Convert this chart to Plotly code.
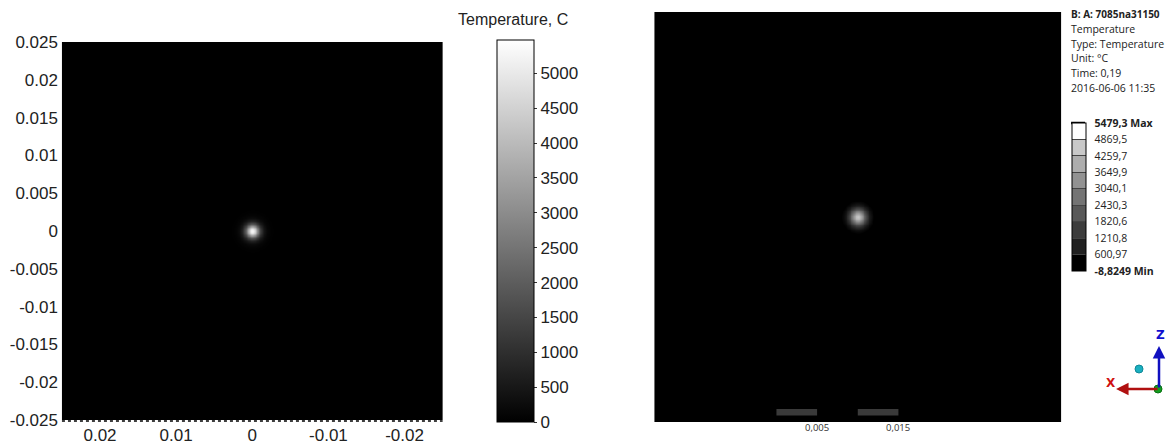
import numpy as np
import plotly.graph_objects as go

# Radial temperature profile of the laser spot (radius in m, temperature in C)
spot_radius = [0.0, 0.00025, 0.0005, 0.00075, 0.001, 0.00125, 0.0015, 0.00175, 0.002, 0.0025, 0.003]
spot_temp = [5479.3, 5050, 3950, 2650, 1600, 900, 480, 250, 120, 30, 0]

# Same spot as shaded in the FE post-processor (nodal averaged, softer)
fe_radius = [0.0, 0.00025, 0.0005, 0.00075, 0.001, 0.00125, 0.0015, 0.00175, 0.002]
fe_temp = [4300, 4000, 3300, 2400, 1600, 950, 500, 200, 0]

t_min, t_max = 0.0, 5479.3

x_ticks = [0.02, 0.01, 0.0, -0.01, -0.02]
x_labels = ["0.02", "0.01", "0", "-0.01", "-0.02"]
y_ticks = [0.025, 0.02, 0.015, 0.01, 0.005, 0.0, -0.005, -0.01, -0.015, -0.02, -0.025]
y_labels = ["0.025", "0.02", "0.015", "0.01", "0.005", "0", "-0.005", "-0.01", "-0.015", "-0.02", "-0.025"]
cbar_ticks = [0, 500, 1000, 1500, 2000, 2500, 3000, 3500, 4000, 4500, 5000]

# FE legend levels (bottom to top) and band colours
fe_levels = [-8.8249, 600.97, 1210.8, 1820.6, 2430.3, 3040.1, 3649.9, 4259.7, 4869.5, 5479.3]
fe_level_text = ["<b>-8,8249 Min</b>", "600,97", "1210,8", "1820,6", "2430,3",
                 "3040,1", "3649,9", "4259,7", "4869,5", "<b>5479,3 Max</b>"]
fe_band_colors = ["#000000", "#202020", "#3c3c3c", "#585858", "#747474",
                  "#929292", "#adadad", "#c8c8c8", "#ffffff"]

info_lines = ["<b>B: A: 7085na31150</b>", "Temperature", "Type: Temperature",
              "Unit: °C", "Time: 0,19", "2016-06-06 11:35"]

W, H = 1168, 443


def px(xp):
    return xp / W


def py(yp):
    return 1 - yp / H


grid = np.arange(-0.004, 0.004 + 1e-9, 0.0001)
gx, gy = np.meshgrid(grid, grid)
rr = np.hypot(gx, gy)
z_left = np.interp(rr, spot_radius, spot_temp)
z_right = np.interp(rr, fe_radius, fe_temp)

grey = [[0, "#000000"], [1, "#ffffff"]]
pad = "\u00a0\u00a0"

fig = go.Figure()

fig.add_trace(go.Heatmap(
    x=grid, y=grid, z=z_left, zmin=t_min, zmax=t_max, colorscale=grey,
    zsmooth="best", xaxis="x", yaxis="y",
    colorbar=dict(
        x=px(497), xanchor="left", y=py(40), yanchor="top",
        len=382, lenmode="pixels", thickness=37, thicknessmode="pixels",
        outlinecolor="#000000", outlinewidth=1,
        tickvals=cbar_ticks, ticks="outside", ticklen=3, tickcolor="#333",
        tickfont=dict(family="Liberation Sans", size=17, color="#222"),
        xpad=0, ypad=0,
    ),
))

fig.add_trace(go.Heatmap(
    x=grid, y=grid, z=z_right, zmin=t_min, zmax=t_max, colorscale=grey,
    zsmooth="best", xaxis="x2", yaxis="y2", showscale=False,
))

# stepped legend of the FE result
n = len(fe_band_colors)
stepped = []
for i, c in enumerate(fe_band_colors):
    stepped.append([i / n, c])
    stepped.append([(i + 1) / n, c])

fig.add_trace(go.Scatter(
    x=[0.02] * len(fe_levels), y=[0.02] * len(fe_levels), mode="markers",
    xaxis="x2", yaxis="y2", hoverinfo="skip", showlegend=False,
    marker=dict(
        color=fe_levels, colorscale=stepped, cmin=fe_levels[0], cmax=fe_levels[-1],
        opacity=0, size=1, showscale=True,
        colorbar=dict(
            x=px(1072), xanchor="left", y=py(123), yanchor="top",
            len=148, lenmode="pixels", thickness=14, thicknessmode="pixels",
            outlinecolor="#000000", outlinewidth=1,
            tickvals=fe_levels, ticktext=[pad + t for t in fe_level_text],
            ticks="inside", ticklen=14, tickcolor="#444", tickwidth=1,
            tickfont=dict(family="Open Sans", size=10.5, color="#222"),
            xpad=0, ypad=0,
        ),
    ),
))

fig.update_layout(
    width=W, height=H, margin=dict(l=0, r=0, t=0, b=0),
    paper_bgcolor="#ffffff", plot_bgcolor="#000000", showlegend=False,
    xaxis=dict(
        domain=[px(62), px(443)], range=[0.025, -0.025], tickvals=x_ticks, ticktext=x_labels,
        showgrid=False, zeroline=False, showline=False, ticks="", automargin=False,
        ticklabelstandoff=3,
        tickfont=dict(family="Liberation Sans", size=17, color="#222"), anchor="y",
    ),
    yaxis=dict(
        domain=[py(420), py(42)], range=[-0.025, 0.025], tickvals=y_ticks, ticktext=y_labels,
        showgrid=False, zeroline=False, showline=False, ticks="", automargin=False,
        ticklabelstandoff=3,
        tickfont=dict(family="Liberation Sans", size=17, color="#222"), anchor="x",
    ),
    xaxis2=dict(
        domain=[px(655), px(1062)], range=[-0.025, 0.025], visible=False, anchor="y2",
    ),
    yaxis2=dict(
        domain=[py(422), py(12)], range=[-0.025, 0.025], visible=False, anchor="x2",
    ),
)

shapes = []
# dotted lower edge of the left map
shapes.append(dict(type="line", xref="paper", yref="paper", x0=px(62), x1=px(443),
                   y0=py(421), y1=py(421), line=dict(color="#000000", width=1.5, dash="dot")))
# scale bar segments (m) on the FE view
for a, b in [(-0.010, -0.005), (0.0, 0.005)]:
    shapes.append(dict(type="rect", xref="x2", yref="y2", x0=a, x1=b, y0=-0.0242, y1=-0.0234,
                       fillcolor="#3a3a3a", line=dict(width=0)))
# thick top edge of the FE legend
shapes.append(dict(type="line", xref="paper", yref="paper", x0=px(1072), x1=px(1086),
                   y0=py(123), y1=py(123), line=dict(color="#000000", width=2.5)))
# coordinate triad: reference ball and origin
shapes.append(dict(type="circle", xref="paper", yref="paper", x0=px(1136), x1=px(1144),
                   y0=py(373), y1=py(365), fillcolor="#1ab0c0", line=dict(color="#108898", width=1)))

ann = []
ann.append(dict(text="Temperature, C", xref="paper", yref="paper", x=px(513), y=py(20),
                xanchor="center", yanchor="middle", showarrow=False,
                font=dict(family="Liberation Sans", size=16, color="#222")))
for val, label in [(-0.005, "0,005"), (0.005, "0,015")]:
    ann.append(dict(text=label, xref="x2", yref="paper", x=val, y=py(427),
                    xanchor="center", yanchor="middle", showarrow=False,
                    font=dict(family="Open Sans", size=9.5, color="#333")))
for i, line in enumerate(info_lines):
    ann.append(dict(text=line, xref="paper", yref="paper", x=px(1070), y=py(14 + 14.8 * i),
                    xanchor="left", yanchor="middle", showarrow=False,
                    font=dict(family="Open Sans", size=10 if i == 0 else 10.5, color="#222")))
# triad arrows
ann.append(dict(text="", xref="paper", yref="paper", x=px(1160), y=py(346), ax=0, ay=43,
                showarrow=True, arrowhead=2, arrowsize=1, arrowwidth=2.5, arrowcolor="#1010c0"))
ann.append(dict(text="", xref="paper", yref="paper", x=px(1117), y=py(389), ax=43, ay=0,
                showarrow=True, arrowhead=2, arrowsize=1, arrowwidth=2.5, arrowcolor="#b01010"))
ann.append(dict(text="<b>Z</b>", xref="paper", yref="paper", x=px(1161), y=py(335),
                xanchor="center", yanchor="middle", showarrow=False,
                font=dict(family="DejaVu Sans", size=12, color="#1010d0")))
ann.append(dict(text="<b>X</b>", xref="paper", yref="paper", x=px(1112), y=py(383),
                xanchor="center", yanchor="middle", showarrow=False,
                font=dict(family="DejaVu Sans", size=12, color="#d01010")))
fig.update_layout(annotations=ann)

shapes.append(dict(type="circle", xref="paper", yref="paper", x0=px(1155), x1=px(1163),
                   y0=py(393), y1=py(385), fillcolor="#10a020", line=dict(color="#087010", width=1)))
fig.update_layout(shapes=shapes)

fig.write_html("out.html")
